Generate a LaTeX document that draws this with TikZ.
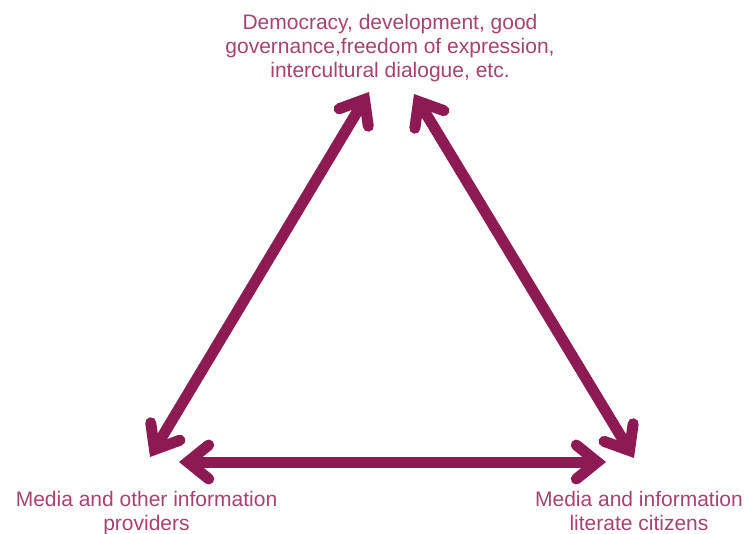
\documentclass[tikz,border=0pt]{standalone}
\usepackage{fontspec}
\setmainfont{Liberation Sans}
\usetikzlibrary{arrows.meta}
\definecolor{arrcol}{RGB}{142,26,84}
\definecolor{txtcol}{RGB}{168,66,112}
\tikzset{
  barb/.tip={Straight Barb[length=21pt,width=34pt,line cap=round,line join=miter]},
  dbl/.style={draw=arrcol,line width=11pt,{barb}-{barb}},
  lbl/.style={text=txtcol,font=\fontsize{21}{24}\selectfont,align=center,inner sep=0pt,anchor=north}
}
\begin{document}
\begin{tikzpicture}[x=1pt,y=1pt]
\useasboundingbox (0,0) rectangle (747,-533);
\coordinate (LB) at (150,-457);
\coordinate (LT) at (369,-92);
\coordinate (RT) at (414,-94);
\coordinate (RB) at (634,-458);
\coordinate (BL) at (179,-462);
\coordinate (BR) at (606,-462);
\draw[dbl] (LB) -- (LT);
\draw[dbl] (RT) -- (RB);
\draw[dbl] (BL) -- (BR);
\node[lbl] (top) at (390,-14.5) {Democracy, development, good\\governance,freedom of expression,\\intercultural dialogue, etc.};
\node[lbl] (left) at (146.5,-491) {Media and other information\\providers};
\node[lbl] (right) at (639,-491) {Media and information\\literate citizens};
\end{tikzpicture}
\end{document}
